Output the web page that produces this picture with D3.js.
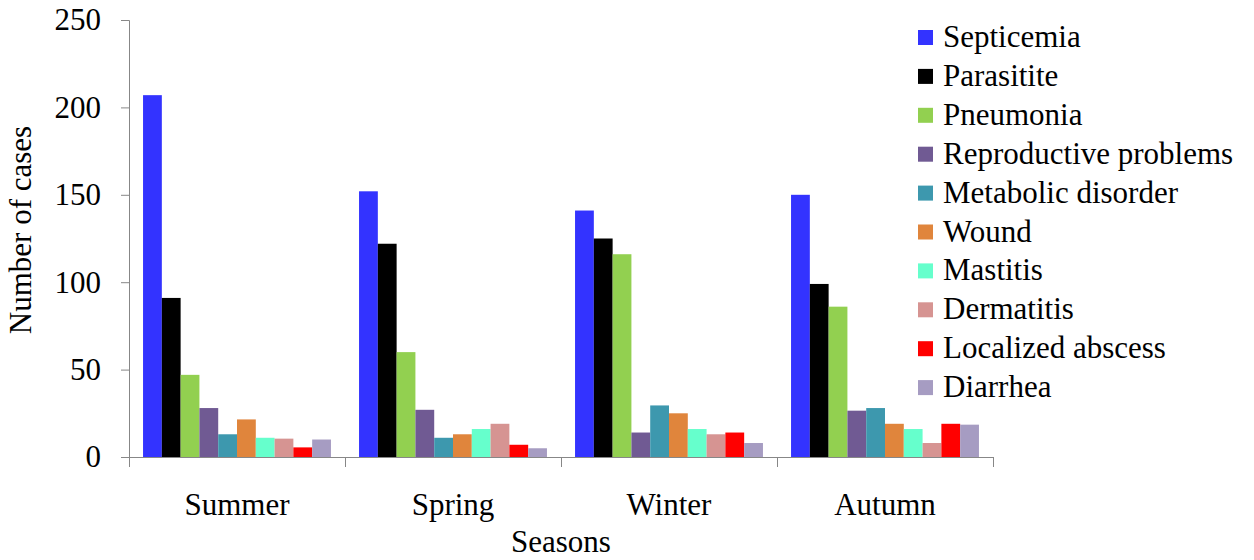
<!DOCTYPE html>
<html>
<head>
<meta charset="utf-8">
<script src="https://cdn.jsdelivr.net/npm/d3@7"></script>
<style>
  html, body { margin: 0; padding: 0; background: #fff; }
  svg { display: block; }
</style>
</head>
<body>
<svg id="chart" width="1254" height="560"></svg>
<script>
// Seasons on the x axis
const seasons = ["Summer", "Spring", "Winter", "Autumn"];

// Disease categories (one bar per season each)
const diseases = [
  "Septicemia", "Parasitite", "Pneumonia", "Reproductive problems",
  "Metabolic disorder", "Wound", "Mastitis", "Dermatitis",
  "Localized abscess", "Diarrhea"
];

// Number of cases per disease, in season order: Summer, Spring, Winter, Autumn
const septicemia   = [207, 152, 141, 150];
const parasitite   = [91, 122, 125, 99];
const pneumonia    = [47, 60, 116, 86];
const reproductive = [28, 27, 14, 26.5];
const metabolic    = [13, 11, 29.5, 28];
const wound        = [21.5, 13, 25, 19];
const mastitis     = [11, 16, 16, 16];
const dermatitis   = [10.5, 19, 13, 8];
const abscess      = [5.5, 7, 14, 19];
const diarrhea     = [10, 5, 8, 18.5];

const seriesValues = [septicemia, parasitite, pneumonia, reproductive, metabolic,
                      wound, mastitis, dermatitis, abscess, diarrhea];

const colors = ["#3333FF", "#000000", "#92D050", "#705A93", "#3D98AE",
                "#E0853C", "#66FFCC", "#D69492", "#FF0000", "#A69CC2"];

const yTicks = [0, 50, 100, 150, 200, 250];

const FONT = "'Liberation Serif', 'Times New Roman', serif";

const svg = d3.select("#chart").style("font-family", FONT);
const plot = { left: 129, right: 993, top: 20, bottom: 457 };

const x = d3.scaleBand().domain(seasons).range([plot.left, plot.right]).padding(0);
const groupGap = x.bandwidth() * 0.065;
const xInner = d3.scaleBand().domain(diseases).range([groupGap, x.bandwidth() - groupGap]).padding(0);
const y = d3.scaleLinear().domain([0, 250]).range([plot.bottom, plot.top]);
const color = d3.scaleOrdinal().domain(diseases).range(colors);

// Bars
const groups = svg.append("g").selectAll("g")
  .data(seasons)
  .join("g")
  .attr("transform", d => `translate(${x(d)},0)`);

groups.selectAll("rect")
  .data((s, si) => diseases.map((d, di) => ({ disease: d, value: seriesValues[di][si] })))
  .join("rect")
  .attr("x", d => xInner(d.disease))
  .attr("y", d => y(d.value))
  .attr("width", xInner.bandwidth())
  .attr("height", d => y(0) - y(d.value))
  .attr("fill", d => color(d.disease));

// Y axis
const yAxis = svg.append("g")
  .attr("transform", `translate(${plot.left},0)`)
  .call(d3.axisLeft(y).tickValues(yTicks).tickSize(8).tickPadding(20).tickFormat(d3.format("d")));
yAxis.attr("font-family", null).attr("font-size", null);
yAxis.select(".domain").attr("stroke", "#878787");
yAxis.selectAll(".tick line").attr("stroke", "#878787");
yAxis.selectAll(".tick text")
  .style("font-family", FONT)
  .style("font-size", "31px")
  .attr("fill", "#000");

// X axis: baseline with tick marks at group boundaries
const boundaries = seasons.map(s => x(s)).concat([x.range()[1]]);
const xAxis = svg.append("g");
xAxis.append("line")
  .attr("x1", plot.left).attr("x2", plot.right)
  .attr("y1", y(0) + 0.5).attr("y2", y(0) + 0.5)
  .attr("stroke", "#878787");
xAxis.selectAll("line.tick")
  .data(boundaries)
  .join("line")
  .attr("class", "tick")
  .attr("x1", d => d + 0.5).attr("x2", d => d + 0.5)
  .attr("y1", y(0)).attr("y2", y(0) + 10)
  .attr("stroke", "#878787");
xAxis.selectAll("text")
  .data(seasons)
  .join("text")
  .attr("x", d => x(d) + x.bandwidth() / 2)
  .attr("y", 515)
  .attr("text-anchor", "middle")
  .style("font-family", FONT)
  .style("font-size", "31px")
  .text(d => d);

// Axis titles
svg.append("text")
  .attr("transform", "translate(31,230) rotate(-90)")
  .attr("text-anchor", "middle")
  .style("font-family", FONT)
  .style("font-size", "31px")
  .text("Number of cases");

svg.append("text")
  .attr("x", (plot.left + plot.right) / 2)
  .attr("y", 552)
  .attr("text-anchor", "middle")
  .style("font-family", FONT)
  .style("font-size", "31px")
  .text("Seasons");

// Legend
const legend = svg.append("g").attr("transform", "translate(918,37)");
const rows = legend.selectAll("g")
  .data(diseases)
  .join("g")
  .attr("transform", (d, i) => `translate(0,${i * 38.9})`);
rows.append("rect")
  .attr("x", 0).attr("y", -7)
  .attr("width", 15).attr("height", 15)
  .attr("fill", d => color(d));
rows.append("text")
  .attr("x", 25)
  .attr("y", 10)
  .style("font-family", FONT)
  .style("font-size", "31px")
  .text(d => d);
</script>
</body>
</html>
